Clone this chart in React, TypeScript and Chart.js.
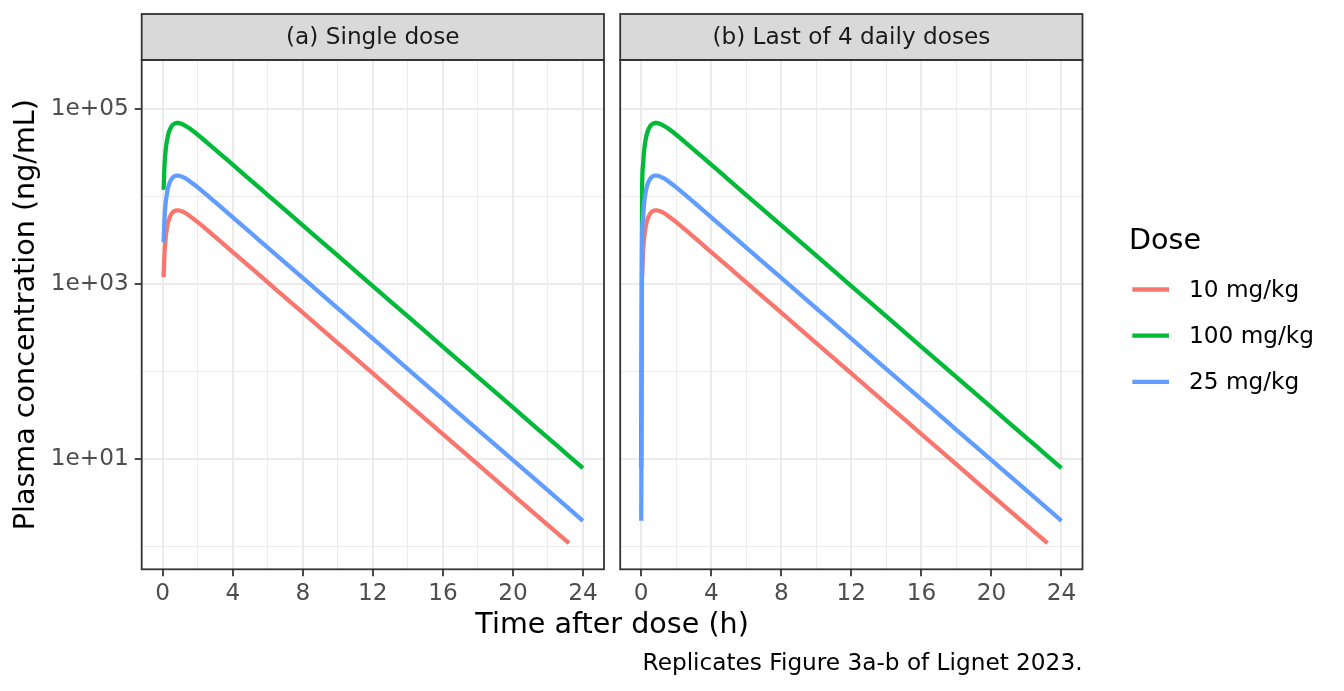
import React, { useEffect, useRef } from "react";
import { Chart, registerables } from "chart.js";

Chart.register(...registerables);

// ---------------- data ----------------
const TIME_H = [
  0.05, 0.1, 0.15, 0.2, 0.3, 0.4, 0.5, 0.6, 0.7, 0.8, 0.9, 1, 1.25, 1.5, 2, 2.5,
  3, 4, 5, 6, 8, 10, 12, 14, 16, 18, 20, 22, 23.2, 24,
];
const CONC_10: (number | null)[] = [
  1204, 2234, 3113, 3860, 5024, 5836, 6381, 6724, 6916, 6995, 6988, 6920, 6579,
  6117, 5128, 4230, 3472, 2330, 1562, 1047, 470.4, 211.4, 94.97, 42.67, 19.17,
  8.62, 3.87, 1.74, 1.08, null,
];
const CONC_100: (number | null)[] = [
  12036, 22339, 31130, 38604, 50238, 58355, 63807, 67244, 69163, 69946, 69885,
  69202, 65792, 61165, 51277, 42300, 34717, 23296, 15618, 10469, 4704, 2114,
  949.7, 426.7, 191.7, 86.2, 38.7, 17.4, 10.76, 7.82,
];
const CONC_25: (number | null)[] = [
  3009, 5585, 7783, 9651, 12560, 14589, 15952, 16811, 17291, 17487, 17471,
  17300, 16448, 15291, 12819, 10575, 8679, 5824, 3905, 2617, 1176, 528.4, 237.4,
  106.7, 47.9, 21.5, 9.68, 4.35, 2.69, 1.95,
];
// concentration at time 0 of the last dose (panel b), null = below plotted range
const PREDOSE_10: number | null = null;
const PREDOSE_100: number | null = 7.82;
const PREDOSE_25: number | null = 1.95;

const DOSE_LABELS = ["10 mg/kg", "100 mg/kg", "25 mg/kg"];
const DOSE_COLORS = ["#F8766D", "#00BA38", "#619CFF"];
const PANEL_TITLES = ["(a) Single dose", "(b) Last of 4 daily doses"];

const X_BREAKS = [0, 4, 8, 12, 16, 20, 24];
const X_TICK_LABELS = ["0", "4", "8", "12", "16", "20", "24"];
const X_MINOR = [2, 6, 10, 14, 18, 22];
const Y_BREAKS = [10, 1000, 100000];
const Y_TICK_LABELS = ["1e+01", "1e+03", "1e+05"];
const Y_MINOR = [1, 100, 10000];

const X_TITLE = "Time after dose (h)";
const Y_TITLE = "Plasma concentration (ng/mL)";
const LEGEND_TITLE = "Dose";
const CAPTION = "Replicates Figure 3a-b of Lignet 2023.";

const X_MIN = -1.2;
const X_MAX = 25.2;
const Y_MIN = 0.5433;
const Y_MAX = 368000;

// ---------------- layout ----------------
const W = 1344;
const H = 691;
const FONT = "'DejaVu Sans', 'Liberation Sans', sans-serif";
const PANEL_TOP = 60;
const PANEL_BOTTOM = 569.3;
const PANELS = [
  { left: 141.7, right: 604 },
  { left: 620.2, right: 1082.5 },
];
const STRIP_TOP = 14;
const SMALL = 23.2;
const LARGE = 28.6;

function points(vals: (number | null)[], pre: number | null, withPre: boolean) {
  const xs = withPre ? [0, ...TIME_H] : TIME_H;
  const ys = withPre ? [pre, ...vals] : vals;
  return xs
    .map((x, i) => ({ x, y: ys[i] }))
    .filter((p) => p.y !== null && p.y !== undefined) as { x: number; y: number }[];
}

function decorPlugin(panelIndex: number) {
  return {
    id: "decor" + panelIndex,
    afterDraw(chart: any) {
      const ctx: CanvasRenderingContext2D = chart.ctx;
      const a = chart.chartArea;
      ctx.save();
      // strip
      ctx.fillStyle = "#D9D9D9";
      ctx.fillRect(a.left, STRIP_TOP, a.right - a.left, a.top - STRIP_TOP);
      ctx.strokeStyle = "#333333";
      ctx.lineWidth = 1.8;
      ctx.strokeRect(a.left, STRIP_TOP, a.right - a.left, a.top - STRIP_TOP);
      // panel border
      ctx.strokeRect(a.left, a.top, a.right - a.left, a.bottom - a.top);
      // strip label
      ctx.fillStyle = "#1A1A1A";
      ctx.font = `${SMALL}px ${FONT}`;
      ctx.textAlign = "center";
      ctx.textBaseline = "middle";
      ctx.fillText(PANEL_TITLES[panelIndex], (a.left + a.right) / 2, (STRIP_TOP + a.top) / 2 + 1);

      if (panelIndex === 0) {
        // y title
        ctx.fillStyle = "#000000";
        ctx.font = `${LARGE}px ${FONT}`;
        ctx.textAlign = "center";
        ctx.textBaseline = "alphabetic";
        ctx.save();
        ctx.translate(33.5, (a.top + a.bottom) / 2);
        ctx.rotate(-Math.PI / 2);
        ctx.fillText(Y_TITLE, 0, 0);
        ctx.restore();
        // x title
        ctx.fillText(X_TITLE, (PANELS[0].left + PANELS[1].right) / 2, 633);
      } else {
        // legend
        ctx.fillStyle = "#000000";
        ctx.font = `${LARGE}px ${FONT}`;
        ctx.textAlign = "left";
        ctx.textBaseline = "alphabetic";
        ctx.fillText(LEGEND_TITLE, 1129, 249);
        ctx.font = `${SMALL}px ${FONT}`;
        ctx.textBaseline = "middle";
        DOSE_LABELS.forEach((lab, i) => {
          const y = 289.5 + i * 46.2;
          ctx.strokeStyle = DOSE_COLORS[i];
          ctx.lineWidth = 4.3;
          ctx.lineCap = "butt";
          ctx.beginPath();
          ctx.moveTo(1132.3, y);
          ctx.lineTo(1169, y);
          ctx.stroke();
          ctx.fillStyle = "#000000";
          ctx.fillText(lab, 1189, y + 1);
        });
        // caption
        ctx.textAlign = "right";
        ctx.textBaseline = "alphabetic";
        ctx.fillText(CAPTION, PANELS[1].right, 670);
      }
      ctx.restore();
    },
  };
}

function buildConfig(panelIndex: number): any {
  const isA = panelIndex === 0;
  const box = PANELS[panelIndex];
  const withPre = !isA;
  const series = [
    { label: DOSE_LABELS[2], color: DOSE_COLORS[2], data: points(CONC_25, PREDOSE_25, withPre) },
    { label: DOSE_LABELS[1], color: DOSE_COLORS[1], data: points(CONC_100, PREDOSE_100, withPre) },
    { label: DOSE_LABELS[0], color: DOSE_COLORS[0], data: points(CONC_10, PREDOSE_10, withPre) },
  ];
  const xMajor = (v: number) => X_BREAKS.includes(v);
  const yMajor = (v: number) => Y_BREAKS.some((b) => Math.abs(b - v) / b < 1e-6);
  return {
    type: "line",
    data: {
      datasets: series.map((s) => ({
        label: s.label,
        data: s.data,
        borderColor: s.color,
        backgroundColor: s.color,
        borderWidth: 4.3,
        pointRadius: 0,
        fill: false,
        cubicInterpolationMode: "monotone",
        borderCapStyle: "butt",
        borderJoinStyle: "round",
      })),
    },
    options: {
      animation: false,
      responsive: false,
      devicePixelRatio: 1,
      events: [],
      layout: {
        padding: { left: isA ? 0 : box.left, right: W - box.right, top: PANEL_TOP, bottom: 0 },
      },
      plugins: {
        legend: { display: false },
        tooltip: { enabled: false },
        title: { display: false },
      },
      scales: {
        x: {
          type: "linear",
          min: X_MIN,
          max: X_MAX,
          afterBuildTicks: (s: any) => {
            s.ticks = [...X_BREAKS, ...X_MINOR].sort((p, q) => p - q).map((v) => ({ value: v }));
          },
          afterFit: (s: any) => {
            s.height = H - PANEL_BOTTOM;
          },
          ticks: {
            autoSkip: false,
            maxRotation: 0,
            minRotation: 0,
            padding: 4,
            color: "#4D4D4D",
            font: { family: FONT, size: SMALL },
            callback: (v: number) => {
              const i = X_BREAKS.indexOf(v);
              return i >= 0 ? X_TICK_LABELS[i] : "";
            },
          },
          grid: {
            color: "#EBEBEB",
            lineWidth: (c: any) => (c.tick && xMajor(c.tick.value) ? 2 : 1),
            tickColor: (c: any) => (c.tick && xMajor(c.tick.value) ? "#333333" : "rgba(0,0,0,0)"),
            tickWidth: 1.8,
            tickLength: 7,
            drawTicks: true,
          },
          border: { display: false },
        },
        y: {
          type: "logarithmic",
          min: Y_MIN,
          max: Y_MAX,
          afterBuildTicks: (s: any) => {
            s.ticks = [...Y_MINOR, ...Y_BREAKS].sort((p, q) => p - q).map((v) => ({ value: v }));
          },
          afterFit: (s: any) => {
            s.width = isA ? box.left : 0;
          },
          ticks: {
            display: isA,
            autoSkip: false,
            padding: 6,
            color: "#4D4D4D",
            font: { family: FONT, size: SMALL },
            callback: (v: number) => {
              const i = Y_BREAKS.findIndex((b) => Math.abs(b - v) / b < 1e-6);
              return i >= 0 ? Y_TICK_LABELS[i] : "";
            },
          },
          grid: {
            color: "#EBEBEB",
            lineWidth: (c: any) => (c.tick && yMajor(c.tick.value) ? 2 : 1),
            tickColor: (c: any) => (c.tick && yMajor(c.tick.value) ? "#333333" : "rgba(0,0,0,0)"),
            tickWidth: 1.8,
            tickLength: isA ? 7 : 0,
            drawTicks: isA,
          },
          border: { display: false },
        },
      },
    },
    plugins: [decorPlugin(panelIndex)],
  };
}

export default function App() {
  const refA = useRef<HTMLCanvasElement>(null);
  const refB = useRef<HTMLCanvasElement>(null);
  useEffect(() => {
    const charts: Chart[] = [];
    if (refA.current) charts.push(new Chart(refA.current, buildConfig(0)));
    if (refB.current) charts.push(new Chart(refB.current, buildConfig(1)));
    return () => charts.forEach((c) => c.destroy());
  }, []);
  const canvasStyle: React.CSSProperties = { position: "absolute", left: 0, top: 0, width: W, height: H };
  return (
    <div style={{ position: "fixed", left: 0, top: 0, width: W, height: H, background: "#ffffff" }}>
      <canvas ref={refA} width={W} height={H} style={canvasStyle} />
      <canvas ref={refB} width={W} height={H} style={canvasStyle} />
    </div>
  );
}
